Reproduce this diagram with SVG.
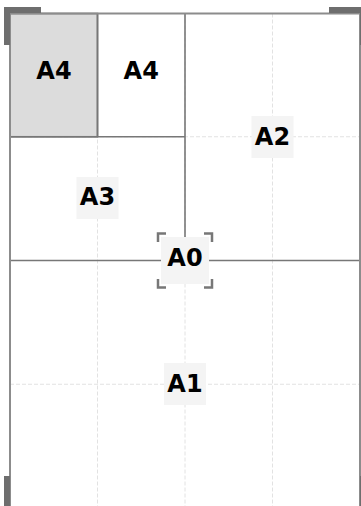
<svg xmlns="http://www.w3.org/2000/svg" width="361" height="506" viewBox="0 0 361 506">
<style>
.grid{stroke:#e2e2e2;stroke-width:1;stroke-dasharray:4 2;fill:none}
.div{stroke:#777777;stroke-width:1.6;fill:none}
.mark{fill:#6e6e6e}
.lbg{fill:#f4f4f4}
.lbl{font-family:"DejaVu Sans",sans-serif;font-weight:bold;font-size:24px;fill:#000;text-anchor:middle;dominant-baseline:central}
.br{stroke:#777777;stroke-width:2.5;fill:none}
</style>
<rect x="0" y="0" width="361" height="506" fill="#ffffff"/>
<g id="grid">
<line class="grid" x1="97.5" y1="13.5" x2="97.5" y2="508"/>
<line class="grid" x1="185" y1="13.5" x2="185" y2="508"/>
<line class="grid" x1="272.5" y1="13.5" x2="272.5" y2="508"/>
<line class="grid" x1="10" y1="136.75" x2="360" y2="136.75"/>
<line class="grid" x1="10" y1="384.25" x2="360" y2="384.25"/>
</g>
<g id="A4a">
<rect x="10" y="13.5" width="87.5" height="123.25" fill="#dcdcdc" stroke="#777777" stroke-width="1.6"/>
<text class="lbl" x="54" y="71">A4</text>
</g>
<g id="connectors">
<line class="div" x1="10" y1="260.5" x2="360" y2="260.5"/>
<line class="div" x1="185" y1="13.5" x2="185" y2="260.5"/>
<line class="div" x1="10" y1="136.75" x2="185" y2="136.75"/>
<line class="div" x1="97.5" y1="13.5" x2="97.5" y2="136.75"/>
</g>
<g id="page">
<rect x="10" y="13.5" width="350" height="495" fill="none" stroke="#8c8c8c" stroke-width="2"/>
</g>
<g id="marks">
<path class="mark" d="M4 7H41V13H10V45H4Z"/>
<path class="mark" d="M329 7H366V45H360V13H329Z"/>
<path class="mark" d="M4 476H10V513H4Z"/>
<path class="mark" d="M360 476H366V513H360Z"/>
</g>
<g id="A4b">
<text class="lbl" x="141.25" y="71">A4</text>
</g>
<g id="A3">
<rect class="lbg" x="76.5" y="177" width="42" height="42"/>
<text class="lbl" x="97.5" y="197">A3</text>
</g>
<g id="A2">
<rect class="lbg" x="251.5" y="116" width="42" height="42"/>
<text class="lbl" x="272.5" y="137">A2</text>
</g>
<g id="A1">
<rect class="lbg" x="164" y="363" width="42" height="42"/>
<text class="lbl" x="185" y="383.5">A1</text>
</g>
<g id="A0">
<rect class="lbg" x="161" y="237" width="48" height="47"/>
<path class="br" d="M158 242V233.5H166"/>
<path class="br" d="M204 233.5H212V242"/>
<path class="br" d="M158 279V287.5H166"/>
<path class="br" d="M204 287.5H212V279"/>
<text class="lbl" x="185" y="258">A0</text>
</g>
</svg>
